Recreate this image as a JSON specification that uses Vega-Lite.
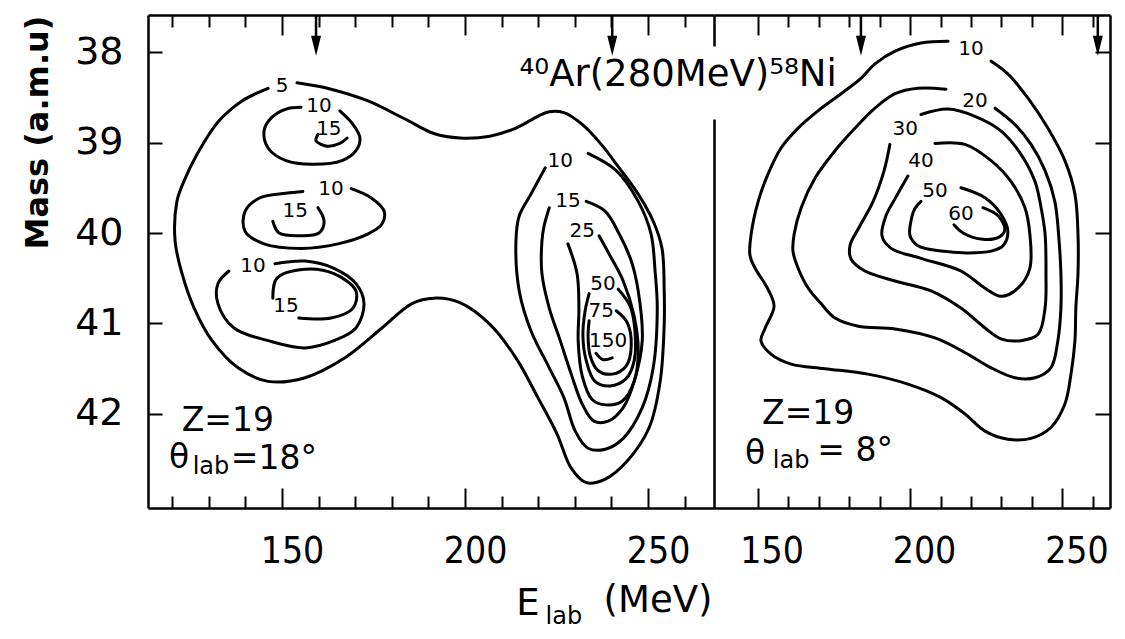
{
  "$schema": "https://vega.github.io/schema/vega-lite/v6.json",
  "background": "white",
  "padding": {"left": 21, "top": 13, "right": 5, "bottom": 5},
  "bounds": "flush",
  "spacing": 0,
  "config": {
    "view": {"stroke": null},
    "axis": {"grid": false, "domainColor": "black", "domainWidth": 2.5, "tickColor": "black", "tickWidth": 2, "labelColor": "black", "titleColor": "black"},
    "text": {"font": "DejaVu Sans", "color": "black"}
  },
  "datasets": {
    "cL": [
      {"id":"L5","E":154.1,"M":38.34},{"id":"L5","E":163.4,"M":38.41},{"id":"L5","E":173.5,"M":38.54},{"id":"L5","E":183.6,"M":38.74},{"id":"L5","E":191.5,"M":38.90},{"id":"L5","E":198.6,"M":38.95},{"id":"L5","E":206.8,"M":38.93},{"id":"L5","E":213.9,"M":38.84},{"id":"L5","E":219.9,"M":38.71},{"id":"L5","E":223.0,"M":38.66},{"id":"L5","E":227.0,"M":38.67},{"id":"L5","E":232.0,"M":38.80},{"id":"L5","E":237.2,"M":39.02},{"id":"L5","E":242.1,"M":39.28},{"id":"L5","E":247.3,"M":39.57},{"id":"L5","E":251.4,"M":39.87},{"id":"L5","E":253.8,"M":40.17},{"id":"L5","E":254.4,"M":40.64},{"id":"L5","E":254.4,"M":41.01},{"id":"L5","E":253.3,"M":41.64},{"id":"L5","E":250.3,"M":42.15},{"id":"L5","E":244.3,"M":42.52},{"id":"L5","E":238.3,"M":42.72},{"id":"L5","E":233.1,"M":42.76},{"id":"L5","E":229.0,"M":42.60},{"id":"L5","E":225.1,"M":42.22},{"id":"L5","E":219.9,"M":41.82},{"id":"L5","E":213.9,"M":41.38},{"id":"L5","E":206.8,"M":41.01},{"id":"L5","E":198.6,"M":40.77},{"id":"L5","E":191.5,"M":40.72},{"id":"L5","E":185.5,"M":40.78},{"id":"L5","E":177.3,"M":41.05},{"id":"L5","E":167.2,"M":41.38},{"id":"L5","E":156.3,"M":41.60},{"id":"L5","E":146.2,"M":41.64},{"id":"L5","E":138.0,"M":41.49},{"id":"L5","E":130.9,"M":41.19},{"id":"L5","E":126.0,"M":40.83},{"id":"L5","E":122.7,"M":40.45},{"id":"L5","E":120.8,"M":40.09},{"id":"L5","E":121.3,"M":39.65},{"id":"L5","E":123.2,"M":39.43},{"id":"L5","E":126.8,"M":39.13},{"id":"L5","E":132.8,"M":38.76},{"id":"L5","E":139.1,"M":38.54},{"id":"L5","E":146.2,"M":38.40},
      {"id":"L10a","E":165.8,"M":38.65},{"id":"L10a","E":169.4,"M":38.80},{"id":"L10a","E":171.3,"M":38.95},{"id":"L10a","E":170.2,"M":39.09},{"id":"L10a","E":166.4,"M":39.20},{"id":"L10a","E":158.2,"M":39.24},{"id":"L10a","E":151.1,"M":39.20},{"id":"L10a","E":146.2,"M":39.06},{"id":"L10a","E":145.1,"M":38.87},{"id":"L10a","E":147.0,"M":38.73},{"id":"L10a","E":151.1,"M":38.63},{"id":"L10a","E":155.2,"M":38.61},
      {"id":"L15a","E":159.8,"M":38.91},{"id":"L15a","E":159.3,"M":38.98},{"id":"L15a","E":162.3,"M":39.04},{"id":"L15a","E":165.8,"M":39.01},{"id":"L15a","E":167.8,"M":38.95},
      {"id":"L10b","E":168.9,"M":39.51},{"id":"L10b","E":174.3,"M":39.61},{"id":"L10b","E":177.9,"M":39.76},{"id":"L10b","E":177.3,"M":39.90},{"id":"L10b","E":173.5,"M":40.01},{"id":"L10b","E":165.3,"M":40.12},{"id":"L10b","E":155.2,"M":40.17},{"id":"L10b","E":145.1,"M":40.12},{"id":"L10b","E":139.9,"M":39.98},{"id":"L10b","E":139.9,"M":39.76},{"id":"L10b","E":144.0,"M":39.61},{"id":"L10b","E":151.1,"M":39.56},{"id":"L10b","E":155.7,"M":39.54},
      {"id":"L15b","E":159.8,"M":39.72},{"id":"L15b","E":161.5,"M":39.87},{"id":"L15b","E":160.1,"M":40.00},{"id":"L15b","E":155.2,"M":40.03},{"id":"L15b","E":149.2,"M":40.00},{"id":"L15b","E":147.5,"M":39.87},
      {"id":"L10c","E":148.1,"M":40.34},{"id":"L10c","E":156.3,"M":40.31},{"id":"L10c","E":164.2,"M":40.39},{"id":"L10c","E":170.2,"M":40.56},{"id":"L10c","E":172.4,"M":40.78},{"id":"L10c","E":170.2,"M":41.05},{"id":"L10c","E":164.2,"M":41.19},{"id":"L10c","E":156.3,"M":41.27},{"id":"L10c","E":146.2,"M":41.19},{"id":"L10c","E":136.9,"M":41.05},{"id":"L10c","E":132.5,"M":40.78},{"id":"L10c","E":132.5,"M":40.56},{"id":"L10c","E":135.5,"M":40.42},
      {"id":"L15c","E":147.5,"M":40.72},{"id":"L15c","E":148.6,"M":40.50},{"id":"L15c","E":156.3,"M":40.40},{"id":"L15c","E":164.2,"M":40.45},{"id":"L15c","E":170.2,"M":40.64},{"id":"L15c","E":169.4,"M":40.83},{"id":"L15c","E":163.4,"M":40.94},{"id":"L15c","E":154.6,"M":40.94},
      {"id":"L10d","E":233.6,"M":39.12},{"id":"L10d","E":241.3,"M":39.31},{"id":"L10d","E":247.3,"M":39.65},{"id":"L10d","E":250.8,"M":40.01},{"id":"L10d","E":251.9,"M":40.42},{"id":"L10d","E":252.5,"M":40.83},{"id":"L10d","E":251.4,"M":41.49},{"id":"L10d","E":248.4,"M":41.93},{"id":"L10d","E":243.2,"M":42.27},{"id":"L10d","E":238.3,"M":42.39},{"id":"L10d","E":233.6,"M":42.38},{"id":"L10d","E":230.1,"M":42.19},{"id":"L10d","E":227.0,"M":41.82},{"id":"L10d","E":223.0,"M":41.49},{"id":"L10d","E":218.0,"M":41.08},{"id":"L10d","E":214.8,"M":40.64},{"id":"L10d","E":213.9,"M":40.09},{"id":"L10d","E":214.8,"M":39.81},{"id":"L10d","E":218.0,"M":39.57},{"id":"L10d","E":221.9,"M":39.28},
      {"id":"L15d","E":233.1,"M":39.65},{"id":"L15d","E":238.3,"M":39.76},{"id":"L15d","E":242.1,"M":40.01},{"id":"L15d","E":245.4,"M":40.31},{"id":"L15d","E":247.3,"M":40.64},{"id":"L15d","E":248.4,"M":41.19},{"id":"L15d","E":246.2,"M":41.64},{"id":"L15d","E":243.2,"M":41.93},{"id":"L15d","E":239.1,"M":42.08},{"id":"L15d","E":235.2,"M":42.08},{"id":"L15d","E":232.0,"M":41.89},{"id":"L15d","E":229.0,"M":41.56},{"id":"L15d","E":226.0,"M":41.19},{"id":"L15d","E":223.0,"M":40.83},{"id":"L15d","E":221.0,"M":40.45},{"id":"L15d","E":221.0,"M":40.09},{"id":"L15d","E":221.6,"M":39.92},{"id":"L15d","E":223.0,"M":39.72},
      {"id":"L25","E":236.6,"M":40.03},{"id":"L25","E":239.6,"M":40.25},{"id":"L25","E":243.2,"M":40.53},{"id":"L25","E":246.2,"M":40.92},{"id":"L25","E":247.3,"M":41.30},{"id":"L25","E":246.2,"M":41.64},{"id":"L25","E":242.9,"M":41.86},{"id":"L25","E":238.5,"M":41.90},{"id":"L25","E":234.7,"M":41.84},{"id":"L25","E":232.0,"M":41.58},{"id":"L25","E":230.9,"M":41.19},{"id":"L25","E":231.1,"M":40.83},{"id":"L25","E":230.6,"M":40.45},{"id":"L25","E":228.1,"M":40.12},
      {"id":"L50","E":241.8,"M":40.62},{"id":"L50","E":245.1,"M":40.81},{"id":"L50","E":246.4,"M":41.08},{"id":"L50","E":246.2,"M":41.41},{"id":"L50","E":244.0,"M":41.61},{"id":"L50","E":239.6,"M":41.69},{"id":"L50","E":235.5,"M":41.64},{"id":"L50","E":233.1,"M":41.41},{"id":"L50","E":232.2,"M":41.14},{"id":"L50","E":232.8,"M":40.86},{"id":"L50","E":233.9,"M":40.67},
      {"id":"L75","E":241.3,"M":40.86},{"id":"L75","E":244.3,"M":40.99},{"id":"L75","E":245.4,"M":41.25},{"id":"L75","E":244.0,"M":41.47},{"id":"L75","E":240.2,"M":41.56},{"id":"L75","E":236.3,"M":41.52},{"id":"L75","E":234.2,"M":41.36},{"id":"L75","E":233.6,"M":41.14},{"id":"L75","E":233.9,"M":40.97},
      {"id":"L150","E":235.8,"M":41.33},{"id":"L150","E":237.7,"M":41.40},{"id":"L150","E":240.2,"M":41.38}
    ],
    "cR": [
      {"id":"R10","E":212.5,"M":37.88},{"id":"R10","E":203.6,"M":37.90},{"id":"R10","E":195.1,"M":37.99},{"id":"R10","E":188.5,"M":38.13},{"id":"R10","E":183.9,"M":38.29},{"id":"R10","E":177.4,"M":38.46},{"id":"R10","E":169.8,"M":38.65},{"id":"R10","E":163.3,"M":38.84},{"id":"R10","E":157.7,"M":39.06},{"id":"R10","E":153.4,"M":39.35},{"id":"R10","E":150.2,"M":39.65},{"id":"R10","E":147.9,"M":40.01},{"id":"R10","E":147.5,"M":40.25},{"id":"R10","E":149.2,"M":40.39},{"id":"R10","E":153.4,"M":40.62},{"id":"R10","E":155.4,"M":40.81},{"id":"R10","E":152.5,"M":41.05},{"id":"R10","E":151.1,"M":41.19},{"id":"R10","E":154.4,"M":41.34},{"id":"R10","E":161.0,"M":41.45},{"id":"R10","E":172.1,"M":41.50},{"id":"R10","E":186.2,"M":41.56},{"id":"R10","E":199.3,"M":41.67},{"id":"R10","E":210.2,"M":41.82},{"id":"R10","E":218.0,"M":42.00},{"id":"R10","E":224.6,"M":42.19},{"id":"R10","E":232.1,"M":42.28},{"id":"R10","E":239.7,"M":42.27},{"id":"R10","E":246.2,"M":42.15},{"id":"R10","E":250.8,"M":41.89},{"id":"R10","E":252.8,"M":41.56},{"id":"R10","E":254.1,"M":41.19},{"id":"R10","E":254.4,"M":40.83},{"id":"R10","E":255.1,"M":40.45},{"id":"R10","E":255.1,"M":40.01},{"id":"R10","E":254.1,"M":39.57},{"id":"R10","E":250.8,"M":39.20},{"id":"R10","E":245.2,"M":38.84},{"id":"R10","E":238.7,"M":38.51},{"id":"R10","E":232.1,"M":38.24},{"id":"R10","E":226.6,"M":38.10},
      {"id":"R20","E":211.8,"M":38.41},{"id":"R20","E":202.6,"M":38.40},{"id":"R20","E":195.1,"M":38.46},{"id":"R20","E":188.5,"M":38.62},{"id":"R20","E":182.0,"M":38.84},{"id":"R20","E":175.4,"M":39.09},{"id":"R20","E":168.9,"M":39.39},{"id":"R20","E":164.3,"M":39.72},{"id":"R20","E":162.0,"M":40.01},{"id":"R20","E":161.6,"M":40.20},{"id":"R20","E":163.3,"M":40.39},{"id":"R20","E":166.6,"M":40.61},{"id":"R20","E":170.8,"M":40.78},{"id":"R20","E":175.4,"M":40.94},{"id":"R20","E":183.0,"M":41.03},{"id":"R20","E":195.1,"M":41.06},{"id":"R20","E":208.2,"M":41.16},{"id":"R20","E":219.0,"M":41.34},{"id":"R20","E":226.6,"M":41.49},{"id":"R20","E":234.4,"M":41.60},{"id":"R20","E":241.0,"M":41.60},{"id":"R20","E":246.2,"M":41.49},{"id":"R20","E":248.5,"M":41.19},{"id":"R20","E":249.5,"M":40.83},{"id":"R20","E":249.5,"M":40.45},{"id":"R20","E":248.9,"M":40.09},{"id":"R20","E":247.5,"M":39.65},{"id":"R20","E":244.3,"M":39.31},{"id":"R20","E":239.7,"M":39.02},{"id":"R20","E":234.4,"M":38.80},{"id":"R20","E":227.9,"M":38.62},
      {"id":"R30","E":203.6,"M":38.69},{"id":"R30","E":212.5,"M":38.63},{"id":"R30","E":221.3,"M":38.71},{"id":"R30","E":229.8,"M":38.87},{"id":"R30","E":236.4,"M":39.13},{"id":"R30","E":241.0,"M":39.43},{"id":"R30","E":243.0,"M":39.72},{"id":"R30","E":244.3,"M":40.01},{"id":"R30","E":244.6,"M":40.45},{"id":"R30","E":244.3,"M":40.83},{"id":"R30","E":242.0,"M":41.12},{"id":"R30","E":236.4,"M":41.19},{"id":"R30","E":229.8,"M":41.17},{"id":"R30","E":224.6,"M":41.05},{"id":"R30","E":216.7,"M":40.83},{"id":"R30","E":206.9,"M":40.64},{"id":"R30","E":195.1,"M":40.53},{"id":"R30","E":185.2,"M":40.42},{"id":"R30","E":180.7,"M":40.29},{"id":"R30","E":180.3,"M":40.14},{"id":"R30","E":183.6,"M":39.92},{"id":"R30","E":187.9,"M":39.65},{"id":"R30","E":191.5,"M":39.31},{"id":"R30","E":193.4,"M":39.02},
      {"id":"R40","E":208.2,"M":39.01},{"id":"R40","E":218.0,"M":39.02},{"id":"R40","E":226.6,"M":39.20},{"id":"R40","E":233.1,"M":39.43},{"id":"R40","E":237.7,"M":39.72},{"id":"R40","E":239.3,"M":40.01},{"id":"R40","E":239.3,"M":40.39},{"id":"R40","E":235.4,"M":40.61},{"id":"R40","E":229.8,"M":40.70},{"id":"R40","E":224.6,"M":40.61},{"id":"R40","E":216.7,"M":40.42},{"id":"R40","E":203.6,"M":40.28},{"id":"R40","E":193.8,"M":40.17},{"id":"R40","E":190.8,"M":40.03},{"id":"R40","E":192.1,"M":39.81},{"id":"R40","E":195.1,"M":39.62},{"id":"R40","E":199.3,"M":39.37},
      {"id":"R50","E":216.7,"M":39.50},{"id":"R50","E":224.6,"M":39.61},{"id":"R50","E":229.8,"M":39.79},{"id":"R50","E":232.1,"M":39.98},{"id":"R50","E":230.5,"M":40.14},{"id":"R50","E":226.6,"M":40.20},{"id":"R50","E":219.0,"M":40.22},{"id":"R50","E":210.2,"M":40.20},{"id":"R50","E":202.6,"M":40.14},{"id":"R50","E":200.0,"M":40.03},{"id":"R50","E":200.3,"M":39.87},{"id":"R50","E":201.6,"M":39.73},{"id":"R50","E":203.6,"M":39.65},
      {"id":"R60","E":223.9,"M":39.72},{"id":"R60","E":228.9,"M":39.81},{"id":"R60","E":231.1,"M":39.96},{"id":"R60","E":229.5,"M":40.04},{"id":"R60","E":223.9,"M":40.07},{"id":"R60","E":217.4,"M":40.00},{"id":"R60","E":214.4,"M":39.91}
    ],
    "tL": [
      {"k":"c","E":150.0,"M":38.38,"t":"5"},
      {"k":"c","E":160.1,"M":38.60,"t":"10"},
      {"k":"c","E":162.8,"M":38.85,"t":"15"},
      {"k":"c","E":163.4,"M":39.51,"t":"10"},
      {"k":"c","E":153.6,"M":39.76,"t":"15"},
      {"k":"c","E":142.1,"M":40.36,"t":"10"},
      {"k":"c","E":151.1,"M":40.81,"t":"15"},
      {"k":"c","E":226.0,"M":39.20,"t":"10"},
      {"k":"c","E":228.1,"M":39.65,"t":"15"},
      {"k":"c","E":232.0,"M":39.98,"t":"25"},
      {"k":"c","E":237.7,"M":40.56,"t":"50"},
      {"k":"c","E":237.2,"M":40.86,"t":"75"},
      {"k":"c","E":239.1,"M":41.19,"t":"150"},
      {"k":"n","E":135.2,"M":42.08,"t":"Z=19"},
      {"k":"n","E":121.9,"M":42.49,"t":"θ"},
      {"k":"n","E":147.8,"M":42.50,"t":"=18°"},
      {"k":"s","E":130.6,"M":42.59,"t":"lab"},
      {"k":"h","E":258.2,"M":38.25,"t":"⁴⁰Ar(280MeV)⁵⁸Ni"},
      {"k":"h","E":217.2,"M":44.10,"t":"E"},
      {"k":"s","E":227.0,"M":44.24,"t":"lab"},
      {"k":"h","E":252.7,"M":44.07,"t":"(MeV)"}
    ],
    "tR": [
      {"k":"c","E":220.0,"M":37.97,"t":"10"},
      {"k":"c","E":221.3,"M":38.54,"t":"20"},
      {"k":"c","E":198.4,"M":38.85,"t":"30"},
      {"k":"c","E":203.6,"M":39.20,"t":"40"},
      {"k":"c","E":208.2,"M":39.54,"t":"50"},
      {"k":"c","E":216.7,"M":39.79,"t":"60"},
      {"k":"n","E":166.6,"M":42.00,"t":"Z=19"},
      {"k":"n","E":149.2,"M":42.44,"t":"θ"},
      {"k":"n","E":182.0,"M":42.41,"t":"= 8°"},
      {"k":"s","E":161.0,"M":42.52,"t":"lab"}
    ],
    "aL": [{"E":159.3},{"E":240.2}],
    "aR": [{"E":183.9},{"E":261.6}]
  },
  "hconcat": [
    {
      "width": 566,
      "height": 493,
      "resolve": {"axis": {"x": "independent", "y": "independent"}},
      "layer": [
        {
          "data": {"name": "cL"},
          "mark": {"type": "line", "interpolate": "catmull-rom", "color": "black", "strokeWidth": 3, "strokeCap": "round", "strokeJoin": "round"},
          "encoding": {
            "x": {"field": "E", "type": "quantitative", "scale": {"domain": [113.4, 268], "nice": false, "zero": false},
              "axis": {"orient": "bottom", "title": null, "values": [120,130,140,150,160,170,180,190,200,210,220,230,240,250,260],
                "tickSize": {"condition": {"test": "datum.value % 50 === 0", "value": -20}, "value": -12},
                "labelExpr": "datum.value % 50 === 0 ? datum.label : ''",
                "labelFont": "Liberation Sans Narrow, DejaVu Sans Condensed, sans-serif", "labelFontSize": 37,
                "labelPadding": 45, "labelOffset": 10, "labelOverlap": false, "labelFlush": false}},
            "y": {"field": "M", "type": "quantitative", "scale": {"domain": [43.04, 37.59], "nice": false, "zero": false},
              "axis": {"orient": "left", "values": [38,39,40,41,42], "tickSize": -14, "labelPadding": 39, "labelFont": "DejaVu Sans", "labelFontSize": 38,
                "title": "Mass (a.m.u)", "titleFont": "DejaVu Sans", "titleFontSize": 32, "titleFontWeight": "bold", "titleAnchor": "end", "titlePadding": 20}},
            "detail": {"field": "id"},
            "order": {"value": null}
          }
        },
        {
          "data": {"name": "tL"},
          "transform": [{"filter": "datum.k === 'c'"}],
          "mark": {"type": "text", "fontSize": 20, "align": "center", "baseline": "middle"},
          "encoding": {
            "x": {"field": "E", "type": "quantitative",
              "axis": {"orient": "top", "title": null, "labels": false, "values": [120,130,140,150,160,170,180,190,200,210,220,230,240,250,260],
                "tickSize": {"condition": {"test": "datum.value % 50 === 0", "value": -20}, "value": -12}}},
            "y": {"field": "M", "type": "quantitative", "axis": null},
            "text": {"field": "t"}
          }
        },
        {
          "data": {"name": "tL"},
          "transform": [{"filter": "datum.k === 'n'"}],
          "mark": {"type": "text", "fontSize": 33, "align": "center", "baseline": "middle"},
          "encoding": {
            "x": {"field": "E", "type": "quantitative", "axis": null},
            "y": {"field": "M", "type": "quantitative", "axis": null},
            "text": {"field": "t"}
          }
        },
        {
          "data": {"name": "tL"},
          "transform": [{"filter": "datum.k === 's'"}],
          "mark": {"type": "text", "fontSize": 24, "align": "center", "baseline": "middle"},
          "encoding": {
            "x": {"field": "E", "type": "quantitative", "axis": null},
            "y": {"field": "M", "type": "quantitative", "axis": null},
            "text": {"field": "t"}
          }
        },
        {
          "data": {"name": "tL"},
          "transform": [{"filter": "datum.k === 'h'"}],
          "mark": {"type": "text", "fontSize": 37, "align": "center", "baseline": "middle"},
          "encoding": {
            "x": {"field": "E", "type": "quantitative", "axis": null},
            "y": {"field": "M", "type": "quantitative", "axis": null},
            "text": {"field": "t"}
          }
        },
        {
          "data": {"name": "aL"},
          "mark": {"type": "rule", "color": "black", "strokeWidth": 2.5},
          "encoding": {
            "x": {"field": "E", "type": "quantitative", "axis": null},
            "y": {"datum": 37.59, "axis": null},
            "y2": {"datum": 37.9}
          }
        },
        {
          "data": {"name": "aL"},
          "mark": {"type": "point", "shape": "M-0.5,-1L0.5,-1L0,1Z", "filled": true, "color": "black", "opacity": 1, "size": 400},
          "encoding": {
            "x": {"field": "E", "type": "quantitative", "axis": null},
            "y": {"datum": 37.93, "axis": null}
          }
        }
      ]
    },
    {
      "width": 396,
      "height": 493,
      "resolve": {"axis": {"x": "independent", "y": "independent"}},
      "layer": [
        {
          "data": {"name": "cR"},
          "mark": {"type": "line", "interpolate": "catmull-rom", "color": "black", "strokeWidth": 3, "strokeCap": "round", "strokeJoin": "round"},
          "encoding": {
            "x": {"field": "E", "type": "quantitative", "scale": {"domain": [135.7, 265.6], "nice": false, "zero": false},
              "axis": {"orient": "bottom", "title": null, "values": [150,160,170,180,190,200,210,220,230,240,250,260],
                "tickSize": {"condition": {"test": "datum.value % 50 === 0", "value": -20}, "value": -12},
                "labelExpr": "datum.value % 50 === 0 ? datum.label : ''",
                "labelFont": "Liberation Sans Narrow, DejaVu Sans Condensed, sans-serif", "labelFontSize": 37,
                "labelPadding": 45, "labelOffset": 14, "labelOverlap": false, "labelFlush": false}},
            "y": {"field": "M", "type": "quantitative", "scale": {"domain": [43.04, 37.59], "nice": false, "zero": false},
              "axis": {"orient": "left", "ticks": false, "labels": false, "title": null, "domainDash": [389, 73, 40]}},
            "detail": {"field": "id"},
            "order": {"value": null}
          }
        },
        {
          "data": {"name": "tR"},
          "transform": [{"filter": "datum.k === 'c'"}],
          "mark": {"type": "text", "fontSize": 20, "align": "center", "baseline": "middle"},
          "encoding": {
            "x": {"field": "E", "type": "quantitative",
              "axis": {"orient": "top", "title": null, "labels": false, "values": [150,160,170,180,190,200,210,220,230,240,250,260],
                "tickSize": {"condition": {"test": "datum.value % 50 === 0", "value": -20}, "value": -12}}},
            "y": {"field": "M", "type": "quantitative",
              "axis": {"orient": "right", "title": null, "labels": false, "values": [38,39,40,41,42], "tickSize": -15}},
            "text": {"field": "t"}
          }
        },
        {
          "data": {"name": "tR"},
          "transform": [{"filter": "datum.k === 'n'"}],
          "mark": {"type": "text", "fontSize": 33, "align": "center", "baseline": "middle"},
          "encoding": {
            "x": {"field": "E", "type": "quantitative", "axis": null},
            "y": {"field": "M", "type": "quantitative", "axis": null},
            "text": {"field": "t"}
          }
        },
        {
          "data": {"name": "tR"},
          "transform": [{"filter": "datum.k === 's'"}],
          "mark": {"type": "text", "fontSize": 24, "align": "center", "baseline": "middle"},
          "encoding": {
            "x": {"field": "E", "type": "quantitative", "axis": null},
            "y": {"field": "M", "type": "quantitative", "axis": null},
            "text": {"field": "t"}
          }
        },
        {
          "data": {"name": "aR"},
          "mark": {"type": "rule", "color": "black", "strokeWidth": 2.5},
          "encoding": {
            "x": {"field": "E", "type": "quantitative", "axis": null},
            "y": {"datum": 37.59, "axis": null},
            "y2": {"datum": 37.9}
          }
        },
        {
          "data": {"name": "aR"},
          "mark": {"type": "point", "shape": "M-0.5,-1L0.5,-1L0,1Z", "filled": true, "color": "black", "opacity": 1, "size": 400},
          "encoding": {
            "x": {"field": "E", "type": "quantitative", "axis": null},
            "y": {"datum": 37.93, "axis": null}
          }
        }
      ]
    }
  ]
}
